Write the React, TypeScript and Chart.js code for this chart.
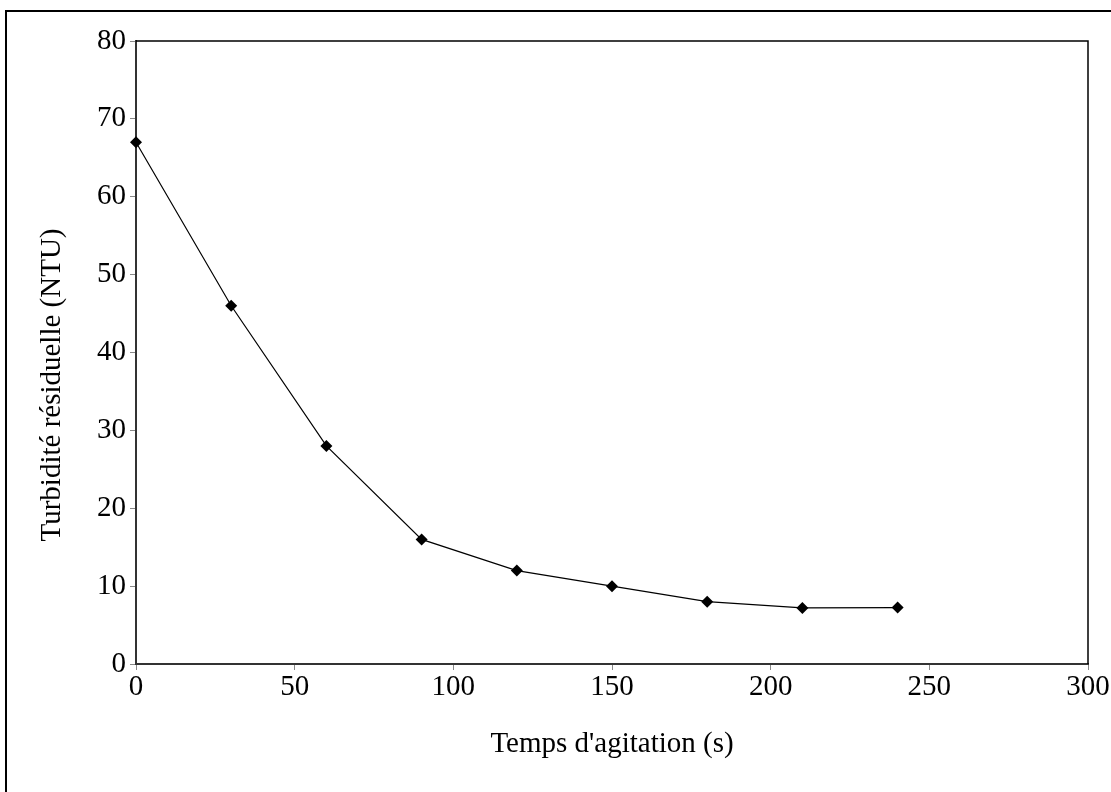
import React, { useEffect, useRef } from "react";
import { Chart, registerables } from "chart.js";

Chart.register(...registerables);

const times: number[] = [0, 30, 60, 90, 120, 150, 180, 210, 240];
const turbidity: number[] = [67, 46, 28, 16, 12, 10, 8, 7.2, 7.25];
const xTitle = "Temps d'agitation (s)";
const yTitle = "Turbidité résiduelle (NTU)";

const FONT = "'Liberation Serif', 'Times New Roman', serif";

const decorPlugin = {
  id: "decor",
  beforeDraw(chart: any) {
    const ctx = chart.ctx;
    ctx.save();
    ctx.fillStyle = "#ffffff";
    ctx.fillRect(0, 0, chart.width, chart.height);
    ctx.strokeStyle = "#000";
    ctx.lineWidth = 2;
    ctx.beginPath();
    ctx.moveTo(6, chart.height + 5);
    ctx.lineTo(6, 11);
    ctx.lineTo(chart.width + 5, 11);
    ctx.stroke();
    ctx.restore();
  },
  afterDraw(chart: any) {
    const ctx = chart.ctx;
    const a = chart.chartArea;
    ctx.save();
    ctx.strokeStyle = "#000";
    ctx.lineWidth = 1.5;
    ctx.beginPath();
    ctx.moveTo(a.left, a.top);
    ctx.lineTo(a.right, a.top);
    ctx.lineTo(a.right, a.bottom);
    ctx.stroke();
    ctx.fillStyle = "#000";
    ctx.font = `29px ${FONT}`;
    ctx.textAlign = "center";
    ctx.textBaseline = "middle";
    ctx.fillText(xTitle, (a.left + a.right) / 2, 744);
    ctx.translate(52, 385);
    ctx.rotate(-Math.PI / 2);
    ctx.fillText(yTitle, 0, 0);
    ctx.restore();
  },
};

export default function App() {
  const ref = useRef<HTMLCanvasElement | null>(null);
  useEffect(() => {
    if (!ref.current) return;
    const chart = new Chart(ref.current, {
      type: "line",
      data: {
        datasets: [
          {
            data: times.map((t, i) => ({ x: t, y: turbidity[i] })),
            borderColor: "#000",
            borderWidth: 1.2,
            backgroundColor: "#000",
            pointStyle: "rectRot",
            pointRadius: 6,
            pointBackgroundColor: "#000",
            pointBorderColor: "#000",
            pointBorderWidth: 0,
            tension: 0,
            clip: false,
          },
        ],
      },
      options: {
        responsive: false,
        animation: false,
        layout: { padding: { left: 0, top: 41, right: 23, bottom: 0 } },
        plugins: { legend: { display: false }, tooltip: { enabled: false } },
        scales: {
          x: {
            type: "linear",
            min: 0,
            max: 300,
            ticks: { stepSize: 50, color: "#000", font: { family: FONT, size: 29 }, padding: 0 },
            grid: { display: true, drawOnChartArea: false, drawTicks: true, tickLength: 6, color: "#888" },
            border: { display: true, color: "#333", width: 2 },
            afterFit: (s: any) => {
              s.height = 128;
            },
          },
          y: {
            min: 0,
            max: 80,
            ticks: { stepSize: 10, color: "#000", font: { family: FONT, size: 29 }, padding: 4 },
            grid: { display: true, drawOnChartArea: false, drawTicks: true, tickLength: 6, color: "#888" },
            border: { display: true, color: "#333", width: 2 },
            afterFit: (s: any) => {
              s.width = 136;
            },
          },
        },
      },
      plugins: [decorPlugin],
    });
    return () => chart.destroy();
  }, []);
  return (
    <div style={{ position: "fixed", left: 0, top: 0, width: 1111, height: 792, background: "#fff" }}>
      <canvas ref={ref} width={1111} height={792} style={{ display: "block" }} />
    </div>
  );
}
